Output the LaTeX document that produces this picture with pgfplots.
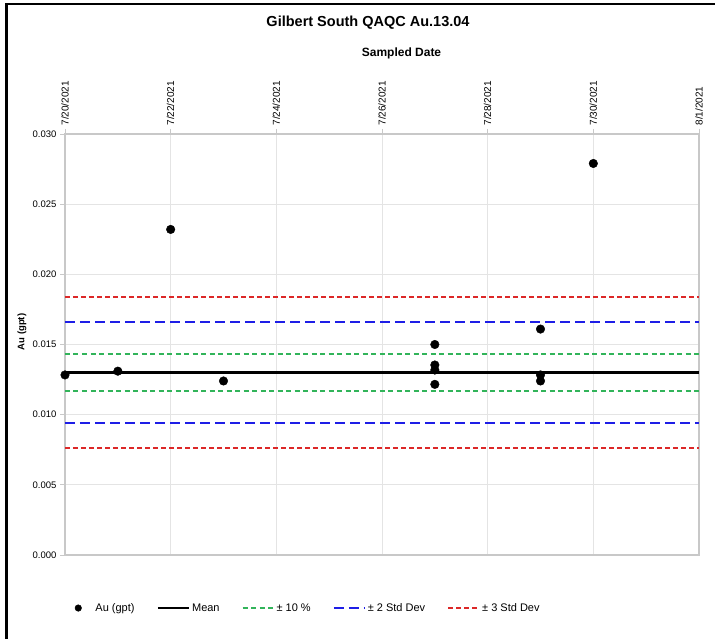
\documentclass[border=0pt]{standalone}
\usepackage{fontspec}
\setmainfont{Liberation Sans}
\usepackage{pgfplots}
\pgfplotsset{compat=1.18}
\definecolor{gridgray}{RGB}{228,228,228}
\definecolor{axgray}{RGB}{200,200,200}
\definecolor{tengreen}{RGB}{50,180,90}
\definecolor{sdblue}{RGB}{30,30,230}
\definecolor{sdred}{RGB}{220,40,40}
\pgfplotsset{longline/.style={legend image code/.code={\draw[##1] (0pt,0pt) -- (31pt,0pt);}}}
\begin{document}
\begin{tikzpicture}
\useasboundingbox (0pt,0pt) rectangle (715pt,639pt);
\draw[line width=2.5pt] (6.5pt,0pt) -- (6.5pt,635pt) -- (715pt,635pt);
\node[font=\bfseries\fontsize{14.5}{17}\selectfont] at (368pt,616pt) {Gilbert South QAQC Au.13.04};
\node[font=\bfseries\fontsize{12}{14}\selectfont] at (401.5pt,586pt) {Sampled Date};
\node[rotate=90,font=\bfseries\fontsize{9.5}{11}\selectfont] at (22pt,307pt) {Au (gpt)};
\begin{axis}[
  at={(65pt,84pt)}, anchor=south west,
  scale only axis, width=634pt, height=421pt,
  xmin=0, xmax=12, ymin=0, ymax=0.030,
  xtick={0,2,4,6,8,10,12},
  xticklabels={7/20/2021,7/22/2021,7/24/2021,7/26/2021,7/28/2021,7/30/2021,8/1/2021},
  xtick pos=upper, xticklabel pos=upper,
  ytick={0,0.005,0.010,0.015,0.020,0.025,0.030},
  ytick pos=left,
  scaled y ticks=false,
  /pgf/number format/assume math mode=true,
  yticklabel style={/pgf/number format/fixed, /pgf/number format/fixed zerofill, /pgf/number format/precision=3},
  x tick label style={rotate=90, anchor=west, font=\fontsize{10}{12}\selectfont},
  y tick label style={font=\fontsize{9.5}{11}\selectfont},
  grid=major, major grid style={gridgray, line width=0.8pt},
  axis line style={axgray, line width=1.2pt},
  tick style={axgray, line width=0.8pt},
  tick align=outside, major tick length=5pt,
  legend columns=5,
  legend style={draw=none, fill=none, at={(0.383,-0.126)}, anchor=center,
    font=\fontsize{11}{13}\selectfont,
    /tikz/every even column/.append style={column sep=20pt}},
]
\addplot[only marks, mark=*, mark size=4.3pt, black,
  legend image code/.code={\draw[black, fill=black] (0pt,0pt) circle (3.3pt); \path (-4pt,0pt) (15pt,0pt);}] coordinates {
 (0,0.01283) (1,0.0131) (2,0.0232) (3,0.0124)
 (7,0.0150) (7,0.01354) (7,0.01318) (7,0.01216)
 (9,0.0161) (9,0.01283) (9,0.01240) (10,0.0279)};
\addlegendentry{Au (gpt)}
\addplot[black, line width=2.5pt, longline] coordinates {(0,0.01302) (12,0.01302)};
\addlegendentry{Mean}
\addplot[tengreen, line width=2pt, dash pattern=on 5pt off 3.5pt, longline] coordinates {(0,0.01432) (12,0.01432)};
\addlegendentry{± 10 \%}
\addplot[sdblue, line width=2pt, dash pattern=on 10pt off 5pt, longline] coordinates {(0,0.0166) (12,0.0166)};
\addlegendentry{± 2 Std Dev}
\addplot[sdred, line width=2pt, dash pattern=on 5pt off 3pt, longline] coordinates {(0,0.01836) (12,0.01836)};
\addlegendentry{± 3 Std Dev}
\addplot[tengreen, line width=2pt, dash pattern=on 5pt off 3.5pt, forget plot] coordinates {(0,0.01172) (12,0.01172)};
\addplot[sdblue, line width=2pt, dash pattern=on 10pt off 5pt, forget plot] coordinates {(0,0.00938) (12,0.00938)};
\addplot[sdred, line width=2pt, dash pattern=on 5pt off 3pt, forget plot] coordinates {(0,0.0076) (12,0.0076)};
\end{axis}
\end{tikzpicture}
\end{document}
